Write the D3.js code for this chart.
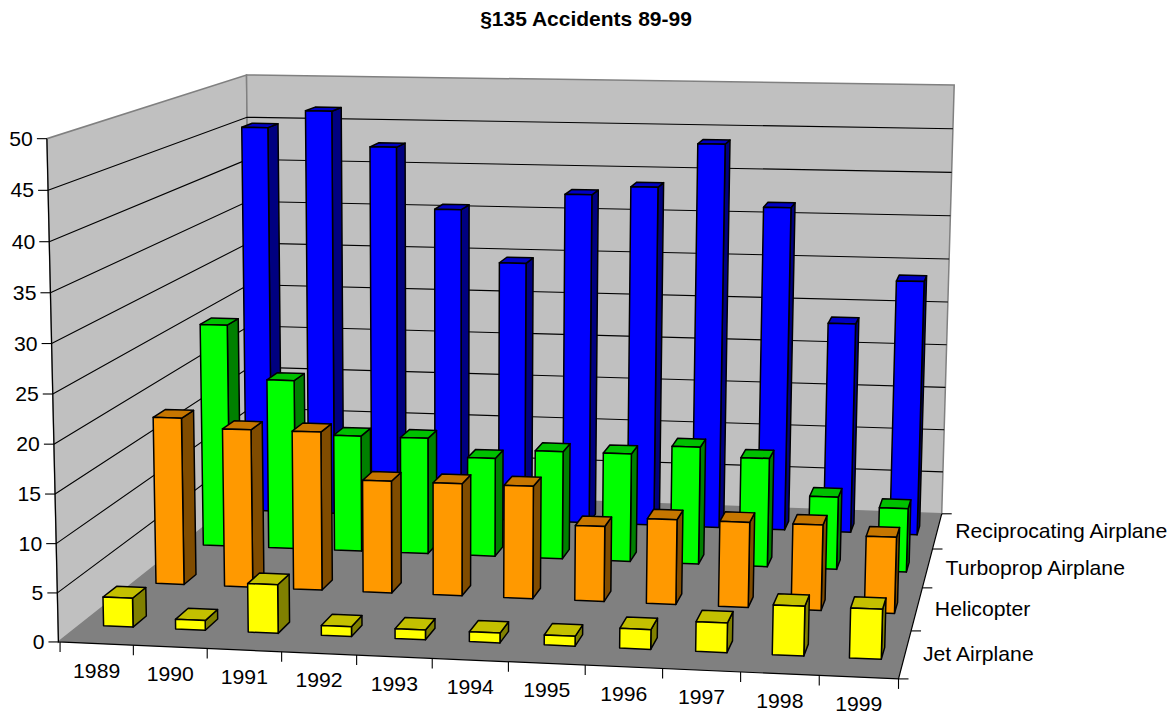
<!DOCTYPE html>
<html>
<head>
<meta charset="utf-8">
<script src="https://cdn.jsdelivr.net/npm/d3@7"></script>
<style>
  body { margin: 0; background: #fff; }
  text { font-family: "Liberation Sans", Arial, sans-serif; fill: #000; }
</style>
</head>
<body>
<script>
// CHART DATA

var years = ["1989", "1990", "1991", "1992", "1993", "1994", "1995", "1996", "1997", "1998", "1999"];
var seriesNames = ["Jet Airplane", "Helicopter", "Turboprop Airplane", "Reciprocating Airplane"];

var jetAirplane = [3, 1, 5, 1, 1, 1, 1, 2, 3, 5, 5];
var helicopter = [18, 17, 17, 12, 12, 12, 8, 9, 9, 9, 8];
var turboprop = [25, 19, 13, 13, 11, 12, 12, 13, 12, 8, 7];
var reciprocating = [45, 47, 43, 36, 30, 38, 39, 44, 37, 24, 29];

var valueTicks = [0, 5, 10, 15, 20, 25, 30, 35, 40, 45, 50];

var faceColors = [
  {front: "#ffff00", top: "#c4c000", side: "#808000"},
  {front: "#ff9900", top: "#c67600", side: "#804c00"},
  {front: "#00ff00", top: "#00c000", side: "#008000"},
  {front: "#0000ff", top: "#0000c4", side: "#000080"}
];

var seriesValues = [jetAirplane, helicopter, turboprop, reciprocating];

// CHART STRUCTURE

var svgWidth = 1175;
var svgHeight = 715;

var svg = d3.select("body")
  .append("svg")
  .attr("width", svgWidth)
  .attr("height", svgHeight)
  .style("display", "block");

// SCALES, unit box: x along the years, y up, z from front to back

var xScale = d3.scaleBand().domain(years).range([0.003, 1.001]).paddingInner(0.59).paddingOuter(0.295);
var zScale = d3.scaleBand().domain(seriesNames).range([0, 1]).paddingInner(0.75).paddingOuter(0.375);
var yScale = d3.scaleLinear().domain([0, 50]).range([0, 1]);
var xTicks = d3.scaleLinear().domain([0, years.length]).range([0.002, 1]);
var zTicks = d3.scaleLinear().domain([0, seriesNames.length]).range([0, 1]);

// CAMERA, fitted to known box points [x, y, z, screenX, screenY, weight]

var anchors = [
  [0, 0, 0, 60, 641, 4],
  [1, 0, 0, 899.5, 680, 2],
  [1, 0, 1, 942, 512, 1],
  [0, 0, 1, 249.5, 490, 4],
  [0, 1, 0, 46, 139, 6],
  [1, 1, 1, 952, 85, 2],
  [0, 1, 1, 248.7, 74.3, 4],
  [1, 0, 0.25, 911.9, 631, 1],
  [1, 0, 0.5, 925.5, 586.7, 1],
  [1, 0, 0.75, 934, 547.7, 1]
];

function solve(A, b) {
  var n = b.length;
  for (var c = 0; c < n; c++) {
    var pivot = c;
    for (var r = c + 1; r < n; r++) {
      if (Math.abs(A[r][c]) > Math.abs(A[pivot][c])) pivot = r;
    }
    var tmp = A[c]; A[c] = A[pivot]; A[pivot] = tmp;
    var t = b[c]; b[c] = b[pivot]; b[pivot] = t;
    for (var r2 = c + 1; r2 < n; r2++) {
      var f = A[r2][c] / A[c][c];
      for (var k = c; k < n; k++) A[r2][k] -= f * A[c][k];
      b[r2] -= f * b[c];
    }
  }
  var out = new Array(n);
  for (var i = n - 1; i >= 0; i--) {
    var s = b[i];
    for (var j = i + 1; j < n; j++) s -= A[i][j] * out[j];
    out[i] = s / A[i][i];
  }
  return out;
}

function fitCamera(points) {
  var rows = [];
  var rhs = [];
  points.forEach(function(p) {
    var x = p[0], y = p[1], z = p[2], u = p[3] / 1000, v = p[4] / 1000, w = p[5];
    rows.push([x, y, z, 1, 0, 0, 0, 0, -u * x, -u * y, -u * z].map(function(c) { return c * w; }));
    rhs.push(u * w);
    rows.push([0, 0, 0, 0, x, y, z, 1, -v * x, -v * y, -v * z].map(function(c) { return c * w; }));
    rhs.push(v * w);
  });
  var ata = d3.range(11).map(function(a) {
    return d3.range(11).map(function(b) {
      return d3.sum(rows, function(r) { return r[a] * r[b]; });
    });
  });
  var atb = d3.range(11).map(function(a) {
    return d3.sum(rows, function(r, i) { return r[a] * rhs[i]; });
  });
  return solve(ata, atb);
}

var cam = fitCamera(anchors);

function project(x, y, z) {
  var w = cam[8] * x + cam[9] * y + cam[10] * z + 1;
  return [
    1000 * (cam[0] * x + cam[1] * y + cam[2] * z + cam[3]) / w,
    1000 * (cam[4] * x + cam[5] * y + cam[6] * z + cam[7]) / w
  ];
}

var line = d3.line();

function poly(points) {
  return line(points.map(function(p) { return project(p[0], p[1], p[2]); })) + "Z";
}

// Axis labels run slightly wider than the font's own advance
function addLabel(group, x, y, anchor, label) {
  group.append("text")
    .attr("transform", "translate(" + x + "," + y + ") scale(1.06,1)")
    .attr("text-anchor", anchor)
    .attr("font-size", 20)
    .text(label);
}

// WALLS AND FLOOR

var walls = svg.append("g");

walls.append("path")
  .attr("d", poly([[0, 0, 0], [0, 1, 0], [0, 1, 1], [0, 0, 1]]))
  .attr("fill", "#c0c0c0")
  .attr("stroke", "#808080")
  .attr("stroke-width", 1.5);

walls.append("path")
  .attr("d", poly([[0, 0, 1], [0, 1, 1], [1, 1, 1], [1, 0, 1]]))
  .attr("fill", "#c0c0c0")
  .attr("stroke", "#808080")
  .attr("stroke-width", 1.5);

walls.append("path")
  .attr("d", poly([[0, 0, 0], [1, 0, 0], [1, 0, 1], [0, 0, 1]]))
  .attr("fill", "#808080");

// GRIDLINES

walls.selectAll(".grid")
  .data(valueTicks.filter(function(d) { return d > 0 && d < 50; }))
  .enter()
  .append("path")
  .attr("class", "grid")
  .attr("d", function(d) {
    var y = yScale(d);
    return line([project(0, y, 0), project(0, y, 1), project(1, y, 1)]);
  })
  .attr("fill", "none")
  .attr("stroke", "#000")
  .attr("stroke-width", 1.1);

// AXES

var axes = svg.append("g");

axes.append("path")
  .attr("d", line([project(0, 1, 0), project(0, 0, 0), project(1, 0, 0), project(1, 0, 1)]))
  .attr("fill", "none")
  .attr("stroke", "#000")
  .attr("stroke-width", 1.2);

valueTicks.forEach(function(d) {
  var p = project(0, yScale(d), 0);
  axes.append("path")
    .attr("d", line([[p[0] - 10, p[1]], p]))
    .attr("stroke", "#000")
    .attr("stroke-width", 1.1);
  addLabel(axes, p[0] - 14, p[1] + 7, "end", d);
});

d3.range(years.length + 1).forEach(function(i) {
  var p = project(xTicks(i), 0, 0);
  axes.append("path")
    .attr("d", line([p, [p[0], p[1] + 10]]))
    .attr("stroke", "#000")
    .attr("stroke-width", 1.1);
});

years.forEach(function(year, i) {
  var p = project(xTicks(i + 0.5), 0, 0);
  addLabel(axes, p[0], p[1] + 34, "middle", year);
});

d3.range(seriesNames.length + 1).forEach(function(i) {
  var p = project(1, 0, zTicks(i));
  axes.append("path")
    .attr("d", line([p, [p[0] + 10, p[1]]]))
    .attr("stroke", "#000")
    .attr("stroke-width", 1.1);
});

seriesNames.forEach(function(name, i) {
  var p = project(1, 0, zTicks(i + 0.5));
  addLabel(axes, p[0] + 18, p[1] + 7, "start", name);
});

// BARS, back series first so the front rows overlap them

var bars = svg.append("g");

d3.range(seriesNames.length - 1, -1, -1).forEach(function(s) {
  var z0 = zScale(seriesNames[s]);
  var z1 = z0 + zScale.bandwidth();
  seriesValues[s].forEach(function(value, i) {
    var x0 = xScale(years[i]);
    var x1 = x0 + xScale.bandwidth();
    var y = yScale(value);
    var faces = [
      {fill: faceColors[s].side, pts: [[x1, 0, z0], [x1, y, z0], [x1, y, z1], [x1, 0, z1]]},
      {fill: faceColors[s].top, pts: [[x0, y, z0], [x1, y, z0], [x1, y, z1], [x0, y, z1]]},
      {fill: faceColors[s].front, pts: [[x0, 0, z0], [x0, y, z0], [x1, y, z0], [x1, 0, z0]]}
    ];
    faces.forEach(function(f) {
      bars.append("path")
        .attr("d", poly(f.pts))
        .attr("fill", f.fill)
        .attr("stroke", "#000")
        .attr("stroke-width", 1.5)
        .attr("stroke-linejoin", "round");
    });
  });
});

// TITLE

svg.append("text")
  .attr("x", 586)
  .attr("y", 26)
  .attr("text-anchor", "middle")
  .attr("font-size", 21)
  .attr("font-weight", "bold")
  .text("§135 Accidents 89-99");
</script>
</body>
</html>
